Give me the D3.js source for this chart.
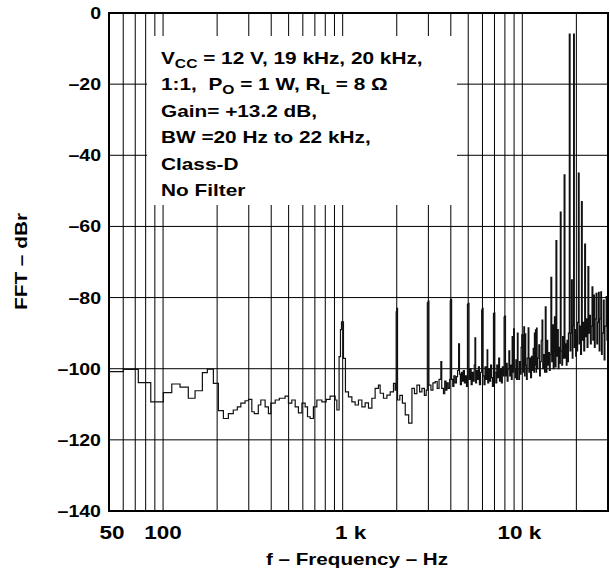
<!DOCTYPE html>
<html><head><meta charset="utf-8">
<script src="https://cdn.jsdelivr.net/npm/d3@7"></script>
<style>
html,body{margin:0;padding:0;background:#fff;}
svg{display:block;}
text{font-family:"Liberation Sans",Arial,Helvetica,sans-serif;font-weight:bold;fill:#000;white-space:pre;}
</style>
</head><body>
<svg id="chart" width="610" height="573"></svg>
<script>
// ---- data: [frequency Hz, level dBr] ----
const lowBand = [
  [50,-100.8],[60.1,-100.2],[72.8,-103.9],[85.4,-109.3],[100.4,-106.7],
  [111.8,-104.3],[124.3,-105.2],[138.2,-108.3],[150.7,-106.2],[165.5,-101.1],
  [176.4,-100.1],[190.6,-104.1],[203.2,-111.8],[216.7,-114.0],[231,-112.6],
  [246,-111.6],[259,-110.7],[271,-109.7],[286,-109.0],[299,-108.6],
  [312,-112.1],[322,-112.6],[339,-110.2],[350,-108.8],[370,-110.7],
  [386,-112.6],[398,-109.7],[421,-108.8],[444,-108.3],[478,-107.7],
  [499,-109.7],[521,-108.8],[544,-110.7],[567,-112.4],[593,-109.7],
  [618,-110.7],[637,-113.5],[659,-114.0],[687,-110.7],[718,-108.8],
  [766,-109.3],[809,-108.6],[851,-107.7],[908,-108.8],[928,-111.6],
  [955,-96.6],[972,-89.0],[985,-86.8],[1010,-97.1]
];
const midBand = [
  [1036,-106.5],[1077,-107.9],[1125,-109.3],[1173,-110.2],[1224,-108.8],
  [1279,-110.7],[1334,-109.6],[1392,-111.1],[1454,-108.3],[1516,-105.5],
  [1582,-104.6],[1617,-106.9],[1687,-108.3],[1763,-107.4],[1839,-106.5],
  [1918,-104.1],[1960,-106],[1985,-84],[2000,-83],[2020,-108.8],
  [2080,-107.5],[2150,-109.7],[2230,-113],[2330,-115.3],[2430,-105.5],
  [2510,-107],[2590,-104.6],[2680,-106.5],[2762,-105.5],[2850,-107.5],
  [2917,-106],[2960,-81.5],[2990,-81],[3020,-104.6],[3100,-106],
  [3180,-104],[3275,-103.6],[3360,-105.5],[3440,-103],[3520,-98],
  [3560,-105.5],[3640,-107],[3700,-103.5],[3760,-106],[3806,-104],
  [3870,-105.5],[3940,-103],[3970,-81],[4000,-80.5],[4040,-103],
  [4100,-105],[4160,-102],[4230,-104],[4300,-102.2],[4360,-100.5],
  [4420,-93],[4470,-101.5],[4520,-104.5],[4580,-101],[4640,-103.5],
  [4700,-100.5],[4760,-104],[4820,-102],[4890,-105]
];
const highBand = [
  [4950,-82],[4990,-81.6],[5050,-103],[5120,-100],[5190,-104.5],[5260,-101],
  [5330,-103.5],[5400,-99],[5450,-91.3],[5500,-104],[5560,-100.5],[5630,-103],
  [5700,-99.5],[5770,-104.5],[5850,-101],[5940,-83.5],[5990,-83],[6050,-102],
  [6120,-104.5],[6200,-99.5],[6280,-103],[6370,-94.7],[6420,-104],[6500,-100],
  [6580,-103.5],[6660,-99],[6740,-102.5],[6820,-105],[6910,-84.5],[6970,-84.3],
  [7030,-101],[7120,-104],[7210,-99],[7300,-102.5],[7390,-97],[7470,-103.5],
  [7560,-100],[7650,-104],[7740,-99.5],[7830,-102],[7920,-85.5],[7990,-85.2],
  [8060,-102],[8150,-98.5],[8240,-103.5],[8330,-100],[8420,-95],[8510,-102],
  [8600,-99],[8690,-103],[8780,-91],[8860,-101],[8950,-88.8],[9030,-100],
  [9120,-102.5],[9210,-97.5],[9300,-103],[9390,-90],[9470,-100],[9560,-103],
  [9650,-98],[9750,-101.5],[9850,-94],[9930,-90.5],[10040,-101],[10130,-98.5],
  [10200,-88.2],[10290,-102],[10360,-90.2],[10450,-99],[10550,-103],[10650,-97],
  [10780,-88.5],[10880,-101],[11000,-97],[11120,-102.5],[11250,-96.5],[11380,-100.5],
  [11500,-94.3],[11600,-101],[11680,-90],[11760,-99],[11840,-89.1],[11920,-101],
  [12000,-88.6],[12090,-100],[12200,-97],[12360,-93.3],[12480,-102],[12600,-98],
  [12750,-92],[12880,-86.3],[13000,-100],[13150,-96],[13300,-101],[13430,-82.6],
  [13560,-101],[13700,-92],[13850,-99],[14000,-95.5],[14150,-100.5],[14300,-96],
  [14430,-74.3],[14580,-98],[14720,-87.7],[14870,-100],[15000,-95],[15100,-85.4],
  [15240,-99.5],[15400,-64],[15560,-96.5],[15700,-89],[15860,-100],[16000,-94],
  [16140,-98.5],[16280,-56],[16440,-95],[16600,-99],[16760,-91],[16900,-97],
  [17100,-45.5],[17270,-97],[17420,-93],[17580,-99],[17740,-92],[17900,-98],
  [18060,-90],[18270,-5.9],[18450,-95],[18620,-90],[18800,-75],[18980,-97],
  [19130,-88],[19300,-5.9],[19480,-94],[19650,-89],[19820,-96.5],[20000,-90],
  [20160,-95],[20320,-87],[20520,-45],[20720,-93],[20920,-88],[21120,-96],
  [21350,-53],[21560,-92],[21780,-87],[22000,-95],[22250,-65],[22480,-91],
  [22700,-86],[22950,-94],[23200,-71.3],[23450,-90],[23700,-85],[23950,-93],
  [24200,-88],[24450,-77],[24700,-92],[24950,-79.3],[25200,-94],[25450,-86],
  [25750,-78.8],[26000,-93],[26250,-87],[26550,-78.5],[26800,-95],[27050,-86],
  [27350,-78.4],[27600,-96],[27850,-90],[28250,-80.7],[28550,-97.5],[28850,-88],
  [29300,-79.7],[29600,-92],[29900,-90]
];

const gridFreqHz = [60,70,80,90,100,200,300,400,500,600,700,800,900,
                    1000,2000,3000,4000,5000,6000,7000,8000,9000,10000,20000];
const gridDbr = [-20,-40,-60,-80,-100,-120];
const yTickDbr = [0,-20,-40,-60,-80,-100,-120,-140];
const xTickHz = [50,100,1000,10000];
const xTickText = ["50","100","1 k","10 k"];
const xTitle = "f – Frequency – Hz";
const yTitle = "FFT – dBr";
const noteLines = [
  [["V",""],["CC","sub"],[" = 12 V, 19 kHz, 20 kHz,",""]],
  [["1:1,  P",""],["O","sub"],[" = 1 W, R",""],["L","sub"],[" = 8 Ω",""]],
  [["Gain= +13.2 dB,",""]],
  [["BW =20 Hz to 22 kHz,",""]],
  [["Class-D",""]],
  [["No Filter",""]]
];

// ---- layout ----
const plot = {left:109, top:13, right:608, bottom:511};
const svg = d3.select("#chart");
const x = d3.scaleLog().domain([50,30000]).range([plot.left, plot.right]);
const y = d3.scaleLinear().domain([-140,0]).range([plot.bottom, plot.top]);

function label(g, str, px, py, anchor, size, sx, rot){
  const t = g.append("text")
    .attr("xml:space","preserve")
    .attr("text-anchor", anchor)
    .attr("font-size", size)
    .attr("transform", `translate(${px},${py})` + (rot ? ` rotate(${rot})` : "") + ` scale(${sx},1)`)
    .text(str);
  return t;
}

// grid
const grid = svg.append("g").attr("stroke","#000").attr("stroke-width",1);
grid.selectAll("line.v").data(gridFreqHz).enter().append("line")
  .attr("x1", d=>x(d)).attr("x2", d=>x(d))
  .attr("y1", plot.top).attr("y2", plot.bottom);
grid.selectAll("line.h").data(gridDbr).enter().append("line")
  .attr("x1", plot.left).attr("x2", plot.right)
  .attr("y1", d=>y(d)).attr("y2", d=>y(d));

// note box (white background hides grid)
svg.append("rect").attr("x",147).attr("y",36).attr("width",310).attr("height",169).attr("fill","#fff");
const note = svg.append("g");
noteLines.forEach((segs,i)=>{
  const t = note.append("text")
    .attr("xml:space","preserve")
    .attr("font-size",16)
    .attr("transform",`translate(161,${63.5 + i*26.5}) scale(1.3,1)`);
  segs.forEach(([s,kind])=>{
    if(kind==="sub"){
      t.append("tspan").attr("font-size",12).attr("dy",4).text(s);
    } else {
      const ts = t.append("tspan").text(s);
      if(t.node().childNodes.length>1 && t.node().childNodes[t.node().childNodes.length-2].getAttribute("dy")==="4") ts.attr("dy",-4);
    }
  });
});

// trace
svg.append("clipPath").attr("id","clip").append("rect")
  .attr("x",plot.left).attr("y",plot.top).attr("width",plot.right-plot.left).attr("height",plot.bottom-plot.top);
const series = lowBand.concat(midBand, highBand);
const line = d3.line().x(d=>x(d[0])).y(d=>y(d[1])).curve(d3.curveStepAfter);
svg.append("path").datum(series)
  .attr("clip-path","url(#clip)")
  .attr("d", line).attr("fill","none").attr("stroke","#111").attr("stroke-width",1.2)
  .attr("stroke-linejoin","miter");

// frame
svg.append("rect").attr("x",plot.left).attr("y",plot.top)
  .attr("width",plot.right-plot.left).attr("height",plot.bottom-plot.top)
  .attr("fill","none").attr("stroke","#000").attr("stroke-width",2);

// y ticks
const yt = svg.append("g");
yTickDbr.forEach(v=>{
  label(yt, v===0 ? "0" : "–" + Math.abs(v), 101, y(v)+6, "end", 17, 1.15);
});
// x ticks
const xt = svg.append("g");
const xDx = [3,0,8,-3];
xTickHz.forEach((f,i)=>{
  label(xt, xTickText[i], x(f)+xDx[i], 538.5, "middle", 18, 1.25);
});
// titles
label(svg, xTitle, 357, 565, "middle", 16.5, 1.25);
label(svg, yTitle, 26.5, 261.5, "middle", 16, 1.3, -90);
</script>
</body></html>
